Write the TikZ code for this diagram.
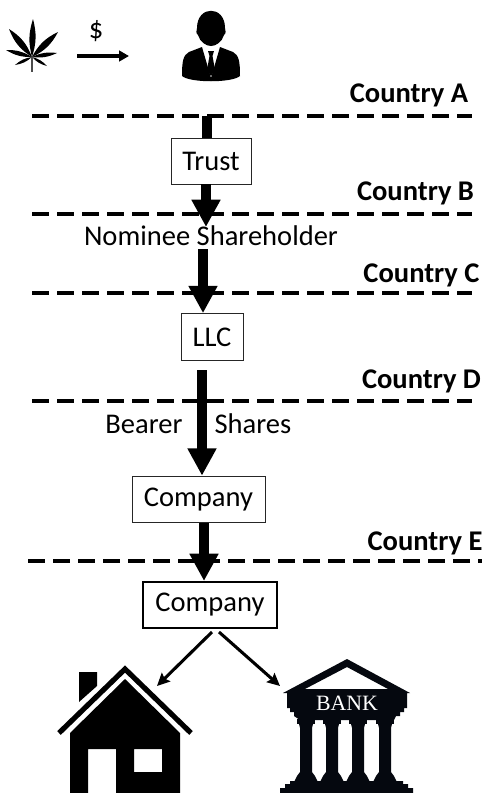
\documentclass[tikz,border=0pt]{standalone}
\usepackage{fontspec}
\setmainfont{Carlito}
\newfontfamily\bankfont{Liberation Serif}
\usetikzlibrary{arrows.meta}
\tikzset{
  x=0.75pt,y=-0.75pt,
  lbl/.style={inner sep=0pt,font=\fontsize{21.4}{24}\selectfont},
  ctry/.style={inner sep=0pt,font=\fontsize{21.4}{24}\selectfont\bfseries},
  boxa/.style={draw=black!85,line width=0.75pt,fill=white,inner sep=0pt,font=\fontsize{21.4}{24}\selectfont},
  boxb/.style={boxa,draw=black,line width=1.5pt},
  border/.style={line width=3pt,dash pattern=on 12.75pt off 6pt},
  bigline/.style={line width=7.5pt},
  bigarrow/.style={line width=7.5pt,-{Triangle[length=20.5pt,width=20.5pt]}},
  thinarrow/.style={line width=2.3pt,-{Stealth[length=9.5pt,width=9pt,inset=1.5pt]}},
  flowarrow/.style={line width=2.3pt,-{Triangle[length=7.5pt,width=8pt]}},
}
\begin{document}
\begin{tikzpicture}
\useasboundingbox (0,0) rectangle (482,793);
% borders
\coordinate (l1a) at (32,116); \coordinate (l1b) at (472,116);
\coordinate (l2a) at (32,214); \coordinate (l2b) at (472,214);
\coordinate (l3a) at (32,293); \coordinate (l3b) at (472,293);
\coordinate (l4a) at (32,401); \coordinate (l4b) at (472,401);
\coordinate (l5a) at (28,561); \coordinate (l5b) at (484,561);
\foreach \n in {1,...,5} \draw[border] (l\n a) -- (l\n b);
% labels
\node[ctry] (ca) at (409,95) {Country A};
\node[ctry] (cb) at (415.5,193) {Country B};
\node[ctry] (cc) at (421.5,275) {Country C};
\node[ctry] (cd) at (421.5,381) {Country D};
\node[ctry] (ce) at (425,543) {Country E};
% boxes
\node[boxa,minimum width=60pt,minimum height=34.5pt] (trust) at (211,161) {Trust};
\node[boxa,minimum width=46.5pt,minimum height=35pt] (llc) at (212,337) {LLC};
\node[boxa,minimum width=99.75pt,minimum height=35pt] (co1) at (198.5,499.5) {Company};
\node[boxb,minimum width=100pt,minimum height=34.5pt] (co2) at (210,605) {Company};
% thick connectors
\coordinate (a1s) at (207,116);
\coordinate (a2s) at (206,184);
\coordinate (a2e) at (206,227);
\coordinate (a3s) at (203,249);
\coordinate (a4s) at (202,370);
\coordinate (a5s) at (204,523);
\draw[bigline] (a1s) -- (a1s |- trust.north);
\draw[bigarrow] (a2s) -- (a2e);
\draw[bigarrow] (a3s) -- (a3s |- llc.north);
\draw[bigarrow] (a4s) -- (a4s |- co1.north);
\draw[bigarrow] (a5s) -- (a5s |- co2.north);
\node[lbl] (nom) at (211,236) {Nominee Shareholder};
\node[lbl] (bearer) at (144,424) {Bearer};
\node[lbl] (shares) at (253,424) {Shares};
% person
\fill (197,28) .. controls (197,5) and (225,5) .. (225,28)
  .. controls (226,30) and (226,34) .. (224,35)
  .. controls (222,42) and (216,46) .. (211,46)
  .. controls (206,46) and (200,42) .. (198,35)
  .. controls (196,34) and (196,30) .. (197,28) -- cycle;
\fill (202,47) -- (189,52) .. controls (183,55) and (182,62) .. (182,76)
  .. controls (190,83) and (232,83) .. (240,76)
  .. controls (240,62) and (239,55) .. (233,52) -- (220,47) -- (211,78) -- cycle;
\fill (208,51) -- (214,51) -- (212.5,56) -- (215,70) -- (211,76) -- (207,70) -- (209.5,56) -- cycle;
% leaf
\coordinate (leaf) at (32,57);
\fill (leaf) to[bend left=16] (33,19) to[bend left=16] (leaf);
\fill (leaf) to[bend left=18] (58,32) to[bend left=18] (leaf);
\fill (leaf) to[bend left=18] (9,29) to[bend left=18] (leaf);
\fill (leaf) to[bend left=16] (57,53) to[bend left=16] (leaf);
\fill (leaf) to[bend left=16] (6,50) to[bend left=16] (leaf);
\fill (leaf) to[bend left=16] (47,66) to[bend left=16] (leaf);
\fill (leaf) to[bend left=16] (15,65) to[bend left=16] (leaf);
\draw[line width=0.8pt,black!70] (leaf) -- (32,72);
% money flow
\coordinate (fs) at (77,56); \coordinate (fe) at (129,56);
\draw[flowarrow] (fs) -- (fe);
\node[lbl] (dollar) at (96,31) {\$};
% house
\fill (79,672) -- (97,672) -- (97,686) -- (79,702) -- cycle;
\draw[line width=3.9pt,miter limit=10] (59,733) -- (125,669) -- (191,733);
\fill[even odd rule] (125,679) -- (180,733) -- (180,793) -- (70,793) -- (70,733) -- cycle
  (88,749) rectangle (116,793) (134,749) rectangle (162,772);
\coordinate (house) at (157,686);
% bank
\definecolor{bankblack}{HTML}{05080F}
\fill[bankblack,even odd rule] (347,659) -- (410,693) -- (407,693) -- (407,708) -- (404,708) -- (404,712) -- (400,712) -- (400,716) -- (396,716) -- (394,720)
  -- (300,720) -- (294,716) -- (294,712) -- (290,712) -- (290,708) -- (287,708) -- (287,693) -- (283,693) -- cycle
  (347,667) -- (388,689) -- (305,689) -- cycle;
\foreach \c in {306,332,358,385}{
  \fill[bankblack] (\c-9,719) rectangle (\c+9,724);
  \fill[bankblack] (\c-7,724) -- (\c+7,724) -- (\c+6,728) -- (\c+6,772) -- (\c+9,776) -- (\c+12,782) -- (\c-12,782) -- (\c-9,776) -- (\c-6,772) -- (\c-6,728) -- cycle;
}
\fill[bankblack] (290,781) rectangle (403,785) (285,784) rectangle (408,789) (280,788) rectangle (413,793);
\node[inner sep=0pt,text=white,font=\bankfont\fontsize{16.4}{18}\selectfont] (banklabel) at (347,703) {BANK};
\coordinate (bank) at (280,686);
% output connectors
\coordinate (c1) at (212,632); \coordinate (c2) at (219,632);
\draw[thinarrow] (c1) -- (house);
\draw[thinarrow] (c2) -- (bank);
\end{tikzpicture}
\end{document}
